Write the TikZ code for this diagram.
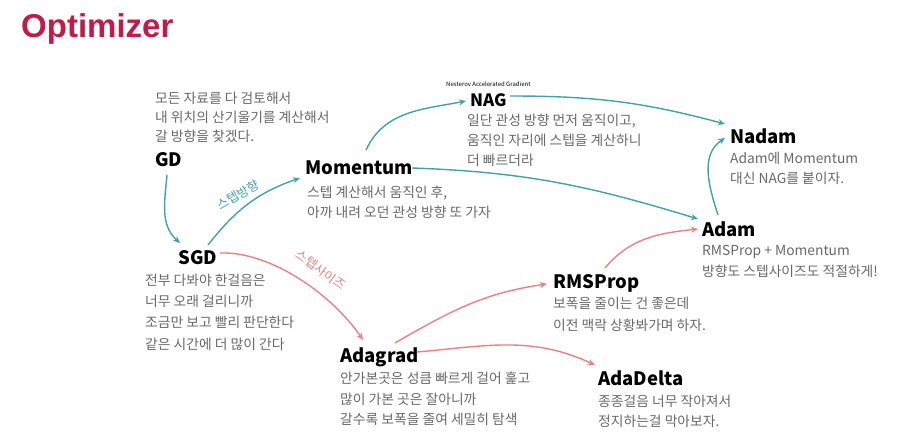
\documentclass[tikz,border=0pt]{standalone}
\usepackage{fontspec}
\setmainfont{Noto Sans CJK KR}
\newfontfamily\titlefont{Liberation Sans}
\usetikzlibrary{arrows.meta}
\definecolor{tealc}{RGB}{64,162,174}
\definecolor{pinkc}{RGB}{238,128,128}
\definecolor{descgray}{RGB}{105,105,105}
\definecolor{titlec}{RGB}{192,28,72}
\begin{document}
\begin{tikzpicture}[x=1pt,y=1pt,
  lbl/.style={anchor=base west, inner sep=1pt, font=\fontsize{18.5}{20}\selectfont\bfseries, text=black},
  desc/.style={anchor=north west, inner sep=0pt, align=left, text=descgray, font=\fontsize{13.8}{20.8}\selectfont},
  tarr/.style={draw=tealc, line width=1.4pt, -{Stealth[length=7pt,width=6pt]}},
  parr/.style={draw=pinkc, line width=1.4pt, -{Stealth[length=7pt,width=6pt]}},
  arrlbl/.style={inner sep=0pt, font=\fontsize{12.5}{13}\selectfont}]
\fill[white] (0,0) rectangle (917,-443);
\useasboundingbox (0,0) rectangle (917,-443);
\node[anchor=base west, inner sep=0pt, text=titlec, font=\titlefont\fontsize{33}{33}\selectfont\bfseries] (title) at (21,-38) {Optimizer};
% labels
\node[lbl] (gd) at (154,-167) {GD};
\node[lbl] (sgd) at (177,-265) {SGD};
\node[lbl] (mom) at (304,-175) {Momentum};
\node[lbl, font=\fontsize{17}{18}\selectfont\bfseries] (nag) at (469,-107) {NAG};
\node[lbl] (nadam) at (729,-144) {Nadam};
\node[lbl] (adam) at (701,-237) {Adam};
\node[lbl] (rms) at (552,-288) {RMSProp};
\node[lbl] (adagrad) at (339,-362) {Adagrad};
\node[lbl] (adadelta) at (597,-385) {AdaDelta};
\node[anchor=base west, inner sep=0pt, font=\fontsize{6}{6}\selectfont] (nagfull) at (446,-87) {Nesterov Accelerated Gradient};
% descriptions
\node[desc, font=\fontsize{13.8}{19.2}\selectfont] (gdd) at (155,-91.5) {모든 자료를 다 검토해서\\내 위치의 산기울기를 계산해서\\갈 방향을 찾겠다.};
\node[desc, font=\fontsize{13.8}{21.3}\selectfont] (sgdd) at (145,-273.5) {전부 다봐야 한걸음은\\너무 오래 걸리니까\\조금만 보고 빨리 판단한다\\같은 시간에 더 많이 간다};
\node[desc] (momd) at (307,-185.5) {스텝 계산해서 움직인 후,\\아까 내려 오던 관성 방향 또 가자};
\node[desc, font=\fontsize{13.8}{20}\selectfont] (nagd) at (467,-113.5) {일단 관성 방향 먼저 움직이고,\\움직인 자리에 스텝을 계산하니\\더 빠르더라};
\node[desc, font=\fontsize{13.8}{20}\selectfont] (nadamd) at (730,-151.5) {Adam에 Momentum\\대신 NAG를 붙이자.};
\node[desc] (adamd) at (702,-245) {RMSProp + Momentum\\방향도 스텝사이즈도 적절하게!};
\node[desc, font=\fontsize{13.8}{22}\selectfont] (rmsd) at (553,-296.5) {보폭을 줄이는 건 좋은데\\이전 맥락 상황봐가며 하자.};
\node[desc] (adagradd) at (340,-371.5) {안가본곳은 성큼 빠르게 걸어 훑고\\많이 가본 곳은 잘아니까\\갈수록 보폭을 줄여 세밀히 탐색};
\node[desc, font=\fontsize{13.8}{20}\selectfont] (adadeltad) at (598,-395) {종종걸음 너무 작아져서\\정지하는걸 막아보자.};
% arrow labels
\node[arrlbl, text=tealc, rotate=30] (dirlbl) at (238,-195) {스텝방향};
\node[arrlbl, text=pinkc, rotate=-36] (sizelbl) at (321,-270) {스텝사이즈};
% teal connectors
\draw[tarr] ([shift={(13,-8)}]gd.base west) to[out=-95,in=138] ([shift={(3,22)}]sgd.base west);
\draw[tarr] ([shift={(31,20)}]sgd.base west) to[out=52,in=199] ([shift={(-4,-3)}]mom.base west);
\draw[tarr] ([shift={(62,25)}]mom.base west) to[out=65,in=191] ([shift={(-3,6)}]nag.base west);
\draw[tarr] ([shift={(41,11)}]nag.base west) to[out=0,in=165] ([shift={(-4,20)}]nadam.base west);
\draw[tarr] ([shift={(108,7)}]mom.base west) to[out=-2,in=163] ([shift={(-3,18)}]adam.base west);
\draw[tarr] ([shift={(17,22)}]adam.base west) to[out=108,in=214] ([shift={(-4,6)}]nadam.base west);
% pink connectors
\draw[parr] ([shift={(43,12)}]sgd.base west) to[out=2,in=124,looseness=0.8] ([shift={(24,22)}]adagrad.base west);
\draw[parr] ([shift={(56,19)}]adagrad.base west) to[out=30,in=188] ([shift={(-5,4)}]rms.base west);
\draw[parr] ([shift={(53,20)}]rms.base west) to[out=50,in=186] ([shift={(-3,8)}]adam.base west);
\draw[parr] ([shift={(78,10)}]adagrad.base west) to[out=5,in=155] ([shift={(-2,20)}]adadelta.base west);
\end{tikzpicture}
\end{document}
